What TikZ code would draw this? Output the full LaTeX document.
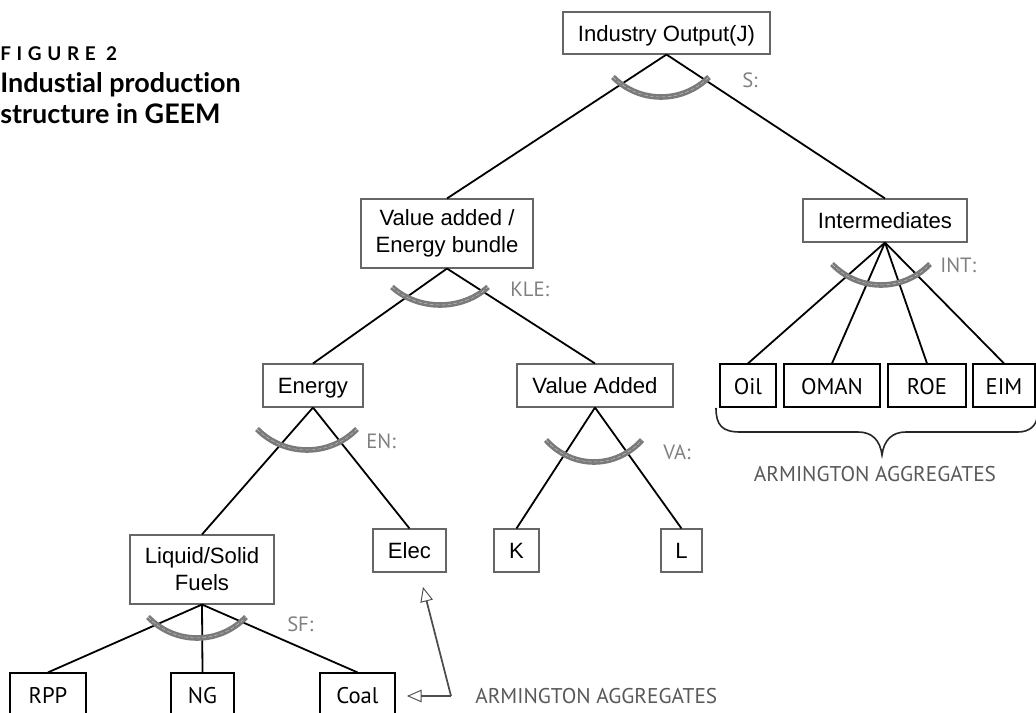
\documentclass[tikz,border=0pt]{standalone}
\usepackage{fontspec}
\setmainfont{Liberation Sans}
\newfontfamily\myr{PT Sans}
\newfontfamily\ttl[Ligatures=NoCommon]{Lato}
\newfontfamily\ttlsp[LetterSpace=30,Ligatures=NoCommon]{Lato}
\usetikzlibrary{arrows.meta}
\def\px{0.75pt}
\definecolor{elgray}{HTML}{7A7A7A}
\definecolor{lblgray}{HTML}{808080}
\definecolor{boxgray}{HTML}{666666}
\newcommand\elast[4]{%
  \draw[elas] ({#1-#3},#2) .. controls ({#1-0.45*#3},{#2+1.333*#4}) and ({#1+0.45*#3},{#2+1.333*#4}) .. ({#1+#3},#2);
  \draw[elasin] ({#1-#3},#2) .. controls ({#1-0.45*#3},{#2+1.333*#4}) and ({#1+0.45*#3},{#2+1.333*#4}) .. ({#1+#3},#2);}
\begin{document}
\begin{tikzpicture}[x=0.75pt,y=-0.75pt,
  abox/.style={draw=boxgray, line width=0.8pt, inner sep=0pt, font=\fontsize{16.6}{20.25}\selectfont, align=center},
  one/.style={text height=12.6pt, text depth=0pt},
  mbox/.style={draw=black, line width=0.9pt, inner sep=0pt, font=\myr\fontsize{17}{19}\selectfont, text height=13.2pt, text depth=0pt},
  conn/.style={draw=black, line width=1.35pt},
  elas/.style={draw=elgray, line width=4.2pt, line cap=butt},
  elasin/.style={draw=white!55!elgray, line width=0.35pt, dash pattern=on 3pt off 1.5pt},
  elbl/.style={text=lblgray, font=\myr\fontsize{15.5}{18}\selectfont, anchor=west, inner sep=0pt},
  armlbl/.style={text=black!65, font=\myr\fontsize{16}{19}\selectfont, inner sep=0pt},
  arr/.style={draw=black!70, line width=1.3pt, -{Triangle[fill=white, length=11pt, width=9.5pt, line width=0.7pt]}}
]
\useasboundingbox (0,0) rectangle (1036,713);

% title
\node[anchor=base west, inner sep=0pt, font=\ttlsp\bfseries\fontsize{14.2}{16}\selectfont] (fig) at (0,61) {FIGURE 2};
\node[anchor=base west, inner sep=0pt, font=\ttl\bfseries\fontsize{20.2}{24}\selectfont] (t1) at (0,93) {Industial production};
\node[anchor=base west, inner sep=0pt, font=\ttl\bfseries\fontsize{20.2}{24}\selectfont] (t2) at (0,124) {structure in GEEM};

% nodes
\node[abox, one, minimum width=207*\px, minimum height=42*\px] (top) at (666.5,33) {Industry Output(J)};
\node[abox, minimum width=172*\px, minimum height=69*\px] (vae) at (447,233.5) {Value added /\\Energy bundle};
\node[abox, one, minimum width=164*\px, minimum height=43*\px] (inter) at (885,220.5) {Intermediates};
\node[abox, one, minimum width=100*\px, minimum height=43*\px] (energy) at (313,385.5) {Energy};
\node[abox, one, minimum width=156*\px, minimum height=43*\px] (va) at (595,385.5) {Value Added};
\node[abox, one, minimum width=45*\px, minimum height=43*\px] (k) at (516.5,550.5) {K};
\node[abox, one, minimum width=41*\px, minimum height=43*\px] (l) at (681.5,550.5) {L};
\node[abox, minimum width=144*\px, minimum height=69*\px] (lsf) at (202,569.5) {Liquid/Solid\\Fuels};
\node[abox, one, minimum width=73*\px, minimum height=43*\px] (elec) at (409.5,550.5) {Elec};

\node[mbox, minimum width=56*\px, minimum height=43*\px] (oil) at (748,385.5) {Oil};
\node[mbox, minimum width=96*\px, minimum height=43*\px] (oman) at (832,385.5) {OMAN};
\node[mbox, minimum width=78*\px, minimum height=43*\px] (roe) at (927,385.5) {ROE};
\node[mbox, minimum width=62*\px, minimum height=43*\px] (eim) at (1004,385.5) {EIM};
\node[mbox, minimum width=76*\px, minimum height=43*\px] (rpp) at (48,694.5) {RPP};
\node[mbox, minimum width=63*\px, minimum height=43*\px] (ng) at (202.5,694.5) {NG};
\node[mbox, minimum width=75*\px, minimum height=43*\px] (coal) at (357.5,694.5) {Coal};

% connectors
\draw[conn] (top.south) -- (vae.north);
\draw[conn] (top.south) -- (inter.north);
\draw[conn] (vae.south) -- (energy.north);
\draw[conn] (vae.south) -- (va.north);
\draw[conn] (inter.south) -- (oil.north);
\draw[conn] (inter.south) -- (oman.north);
\draw[conn] (inter.south) -- (roe.north);
\draw[conn] (inter.south) -- (eim.north);
\draw[conn] (energy.south) -- (lsf.north);
\draw[conn] (energy.south) -- (elec.north);
\draw[conn] (va.south) -- (k.north);
\draw[conn] (va.south) -- (l.north);
\draw[conn] (lsf.south) -- (rpp.north);
\draw[conn] (lsf.south) -- (ng.north);
\draw[conn] (lsf.south) -- (coal.north);

% elasticity arcs
\elast{661}{77}{48}{20}
\elast{440}{287}{48}{18}
\elast{881}{264}{49}{21}
\elast{307}{429}{50}{21}
\elast{594}{440}{48}{22}
\elast{197}{617}{49}{21}

\node[elbl] (ls) at (742,80) {S:};
\node[elbl] (lkle) at (510,289) {KLE:};
\node[elbl] (lint) at (940,265) {INT:};
\node[elbl] (len) at (366,441) {EN:};
\node[elbl] (lva) at (663,452) {VA:};
\node[elbl] (lsfl) at (287,624) {SF:};

% brace under Armington aggregates
\draw[draw=black!85, line width=1.2pt] (716,408) .. controls (716,425) and (722,432) .. (740,432) -- (858,432) .. controls (872,432) and (880,440) .. (882,455) .. controls (884,440) and (892,432) .. (906,432) -- (1018,432) .. controls (1030,432) and (1036,425) .. (1037,418);
\node[armlbl] (arm1) at (875,474) {ARMINGTON AGGREGATES};

% arrows
\coordinate (j) at (451,696);
\coordinate (tipcoal) at (407,696);
\coordinate (tipelec) at (423,587);
\draw[arr] (j) -- (tipcoal);
\draw[arr] (j) -- (tipelec);
\node[armlbl, anchor=west] (arm2) at (475,696) {ARMINGTON AGGREGATES};
\end{tikzpicture}
\end{document}
